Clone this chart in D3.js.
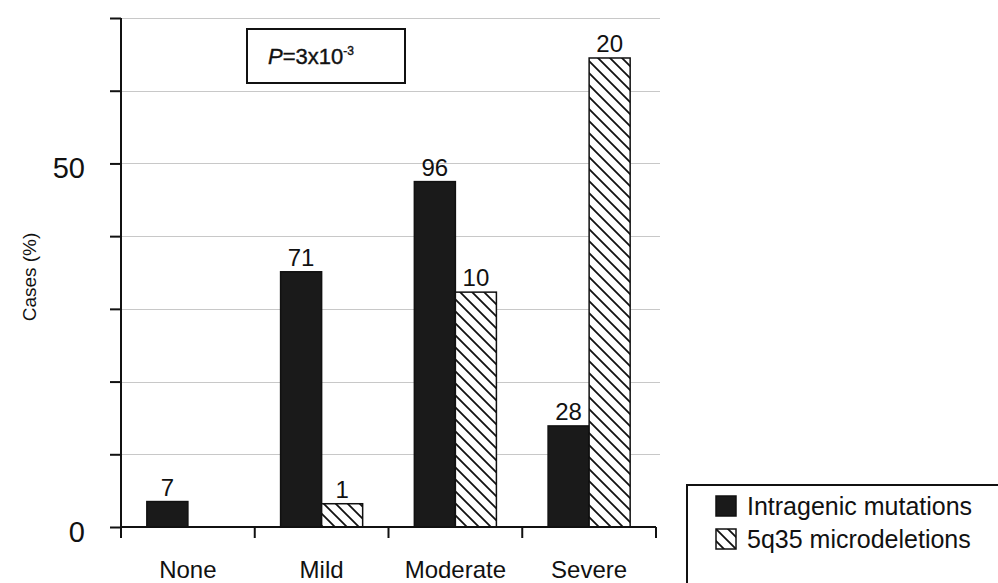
<!DOCTYPE html>
<html>
  <head>
    <meta charset="utf-8" />
    <script src="https://d3js.org/d3.v7.min.js"></script>
    <style>
      body { margin: 0; background: #fff; }
      text { font-family: "Liberation Sans", Arial, sans-serif; fill: #111; }
      .grid line { stroke: #c8c8c8; stroke-width: 1px; }
      .axis path, .axis line { stroke: #111; stroke-width: 2px; }
    </style>
  </head>
  <body>
    <svg id="chart" width="998" height="583"></svg>
  <script>

  // severity categories
  var categories = ["None", "Mild", "Moderate", "Severe"];
  var seriesNames = ["Intragenic mutations", "5q35 microdeletions"];

  // percent of cases in each group
  var intragenicPct = [3.5, 35.1, 47.5, 13.9];
  var microdelPct = [null, 3.2, 32.3, 64.5];

  // number of cases printed above the bars
  var intragenicN = [7, 71, 96, 28];
  var microdelN = [null, 1, 10, 20];

  var yTicks = [0, 10, 20, 30, 40, 50, 60, 70];
  var yLabelled = [0, 50];

  var svg = d3.select("#chart");

  var defs = svg.append("defs");
  var hatch = defs.append("pattern")
    .attr("id", "hatch")
    .attr("patternUnits", "userSpaceOnUse")
    .attr("width", 12)
    .attr("height", 12);
  hatch.append("rect").attr("width", 12).attr("height", 12).attr("fill", "#fff");
  hatch.append("path")
    .attr("d", "M0,0 L12,12 M-6,6 L6,18 M6,-6 L18,6")
    .attr("stroke", "#111")
    .attr("stroke-width", 1.8);

  var x = d3.scaleBand()
    .domain(categories)
    .range([121, 656]);

  var xSub = d3.scaleBand()
    .domain(seriesNames)
    .range([0, x.bandwidth()])
    .paddingOuter(0.63);

  var y = d3.scaleLinear()
    .domain([0, 70])
    .range([527, 18]);

  // gridlines
  svg.append("g")
    .attr("class", "grid")
    .selectAll("line")
    .data(yTicks.filter(function(d) { return d > 0; }))
    .enter().append("line")
    .attr("x1", 121)
    .attr("x2", 660)
    .attr("y1", function(d) { return Math.round(y(d)) + 0.5; })
    .attr("y2", function(d) { return Math.round(y(d)) + 0.5; });

  // bars
  var rows = categories.map(function(c, i) {
    return [
      { cat: c, s: seriesNames[0], v: intragenicPct[i], n: intragenicN[i] },
      { cat: c, s: seriesNames[1], v: microdelPct[i], n: microdelN[i] }
    ];
  });
  var flat = [].concat.apply([], rows).filter(function(d) { return d.v != null; });

  svg.append("g").selectAll("rect")
    .data(flat)
    .enter().append("rect")
    .attr("x", function(d) { return x(d.cat) + xSub(d.s); })
    .attr("y", function(d) { return y(d.v); })
    .attr("width", xSub.bandwidth())
    .attr("height", function(d) { return y(0) - y(d.v); })
    .attr("fill", function(d) { return d.s == seriesNames[0] ? "#1a1a1a" : "url(#hatch)"; })
    .attr("stroke", "#111")
    .attr("stroke-width", 1.5);

  svg.append("g").selectAll("text")
    .data(flat)
    .enter().append("text")
    .attr("x", function(d) { return x(d.cat) + xSub(d.s) + xSub.bandwidth() / 2; })
    .attr("y", function(d) { return y(d.v) - 6; })
    .attr("text-anchor", "middle")
    .attr("font-size", 24)
    .text(function(d) { return d.n; });

  // y axis
  var yAxis = svg.append("g")
    .attr("class", "axis")
    .attr("transform", "translate(121,0)")
    .call(d3.axisLeft(y).tickValues(yTicks).tickSize(11).tickPadding(25)
      .tickFormat(function(d) { return yLabelled.indexOf(d) >= 0 ? d : ""; }));
  yAxis.select(".domain").attr("d", "M0,18V538");
  yAxis.selectAll("text")
    .attr("font-size", 29)
    .attr("dy", "0.5em")
    .style("font-family", "'Liberation Sans', Arial, sans-serif")
    .attr("fill", "#111");

  // x axis
  var xAxis = svg.append("g")
    .attr("class", "axis")
    .attr("transform", "translate(0,527)");
  xAxis.append("line")
    .attr("x1", 121).attr("x2", 656)
    .attr("y1", 0).attr("y2", 0);
  xAxis.selectAll(".tk")
    .data(categories)
    .enter().append("line")
    .attr("class", "tk")
    .attr("x1", function(d) { return x(d) + x.bandwidth(); })
    .attr("x2", function(d) { return x(d) + x.bandwidth(); })
    .attr("y1", 0).attr("y2", 11);
  xAxis.selectAll("text")
    .data(categories)
    .enter().append("text")
    .attr("x", function(d) { return x(d) + x.bandwidth() / 2; })
    .attr("y", 51)
    .attr("text-anchor", "middle")
    .attr("font-size", 24)
    .text(function(d) { return d; });

  // y title
  svg.append("text")
    .attr("transform", "translate(36,277) rotate(-90)")
    .attr("text-anchor", "middle")
    .attr("font-size", 19)
    .text("Cases (%)");

  // P value box
  svg.append("rect")
    .attr("x", 247).attr("y", 29)
    .attr("width", 158).attr("height", 54)
    .attr("fill", "#fff")
    .attr("stroke", "#111")
    .attr("stroke-width", 2);
  var pText = svg.append("text")
    .attr("x", 268).attr("y", 64)
    .attr("font-size", 22)
    .attr("stroke", "#111")
    .attr("stroke-width", 0.4);
  pText.append("tspan").attr("font-style", "italic").text("P");
  pText.append("tspan").text("=3x10");
  pText.append("tspan").attr("font-size", 12).attr("dy", -9).text("-3");

  // legend
  var legend = svg.append("g");
  legend.append("rect")
    .attr("x", 687).attr("y", 485)
    .attr("width", 400).attr("height", 200)
    .attr("fill", "#fff")
    .attr("stroke", "#111")
    .attr("stroke-width", 2);
  var item = legend.selectAll(".item")
    .data(seriesNames)
    .enter().append("g")
    .attr("transform", function(d, i) { return "translate(716," + (496 + i * 33) + ")"; });
  item.append("rect")
    .attr("width", 20).attr("height", 20)
    .attr("fill", function(d, i) { return i == 0 ? "#1a1a1a" : "url(#hatch)"; })
    .attr("stroke", "#111")
    .attr("stroke-width", 1.5);
  item.append("text")
    .attr("x", 31)
    .attr("y", 19)
    .attr("font-size", 25)
    .text(function(d) { return d; });

  </script>
  </body>
</html>
